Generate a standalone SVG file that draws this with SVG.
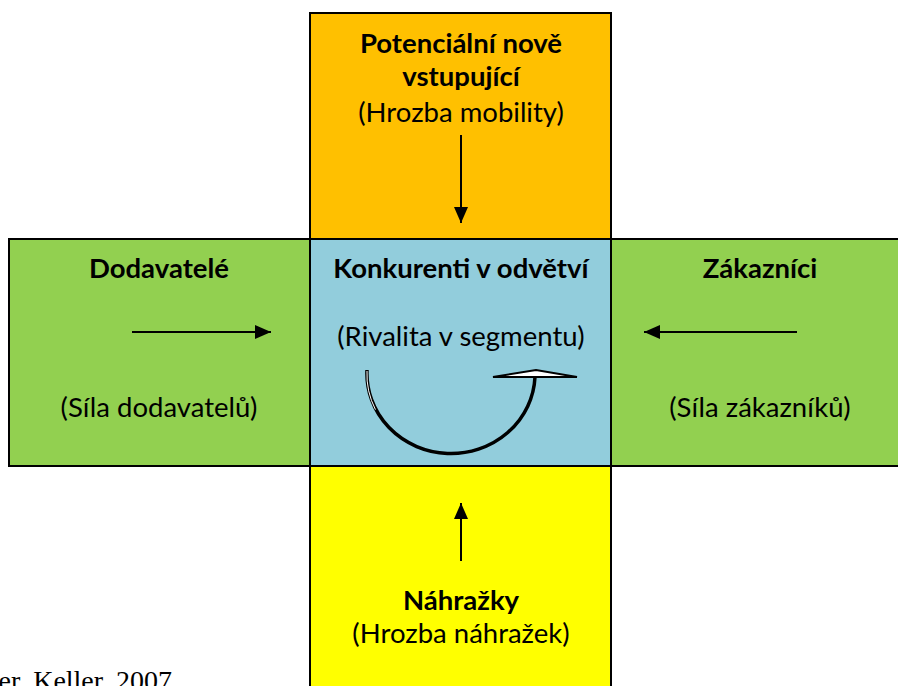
<svg xmlns="http://www.w3.org/2000/svg" width="898" height="686" viewBox="0 0 898 686">
<defs>
<style>
.box{stroke:#000;stroke-width:2}
.b{font-family:Lato,"Open Sans","Liberation Sans",sans-serif;font-weight:bold;font-size:27.5px;fill:#000;text-anchor:middle}
.n{font-family:Lato,"Open Sans","Liberation Sans",sans-serif;font-size:27.5px;fill:#000;text-anchor:middle}
.ln{stroke:#000;stroke-width:2;fill:none}
</style>
<marker id="ah" viewBox="0 0 16 14" refX="16" refY="7" markerWidth="16" markerHeight="14" markerUnits="userSpaceOnUse" orient="auto">
<path d="M0,0 L16,7 L0,14 Z" fill="#000"/>
</marker>
</defs>
<rect width="898" height="686" fill="#fff"/>
<g id="top">
<rect class="box" x="310" y="13" width="301" height="226" fill="#FFC000"/>
<text class="b" x="461" y="53">Potenciální nově</text>
<text class="b" x="461" y="86">vstupující</text>
<text class="n" x="461" y="122">(Hrozba mobility)</text>
</g>
<g id="left">
<rect class="box" x="9" y="239" width="301" height="227" fill="#92D050"/>
<text class="b" x="159" y="278">Dodavatelé</text>
<text class="n" x="159" y="417">(Síla dodavatelů)</text>
</g>
<g id="right">
<rect class="box" x="611" y="239" width="300" height="227" fill="#92D050"/>
<text class="b" x="760" y="278">Zákazníci</text>
<text class="n" x="760" y="417">(Síla zákazníků)</text>
</g>
<g id="center">
<rect class="box" x="310" y="239" width="301" height="227" fill="#92CDDC"/>
<text class="b" x="461" y="278">Konkurenti v odvětví</text>
<text class="n" x="461" y="346">(Rivalita v segmentu)</text>
</g>
<g id="bottom">
<rect class="box" x="310" y="466" width="301" height="230" fill="#FFFF00"/>
<text class="b" x="461" y="610">Náhražky</text>
<text class="n" x="461" y="643">(Hrozba náhražek)</text>
</g>
<g id="connectors">
<line class="ln" x1="132" y1="332" x2="271" y2="332" marker-end="url(#ah)"/>
<line class="ln" x1="797" y1="332" x2="644" y2="332" marker-end="url(#ah)"/>
<line class="ln" x1="461" y1="135" x2="461" y2="223" marker-end="url(#ah)"/>
<line class="ln" x1="461" y1="561" x2="461" y2="503" marker-end="url(#ah)"/>
<g id="rivalry">
<path d="M367,370 A84,80 0 0 0 535,377" fill="none" stroke="#000" stroke-width="3.5"/>
<path d="M367,371 A84,80 0 0 0 535,378" fill="none" stroke="#fff" stroke-width="1" stroke-dasharray="40 150 0 400"/>
<path d="M493,377 L536,370 L577,377 Z" fill="#fff" stroke="#000" stroke-width="2" stroke-linejoin="miter"/>
</g>
</g>
<text x="172" y="690" font-family="Liberation Serif,serif" font-size="28" text-anchor="end" fill="#000">Kotler, Keller, 2007</text>
</svg>
